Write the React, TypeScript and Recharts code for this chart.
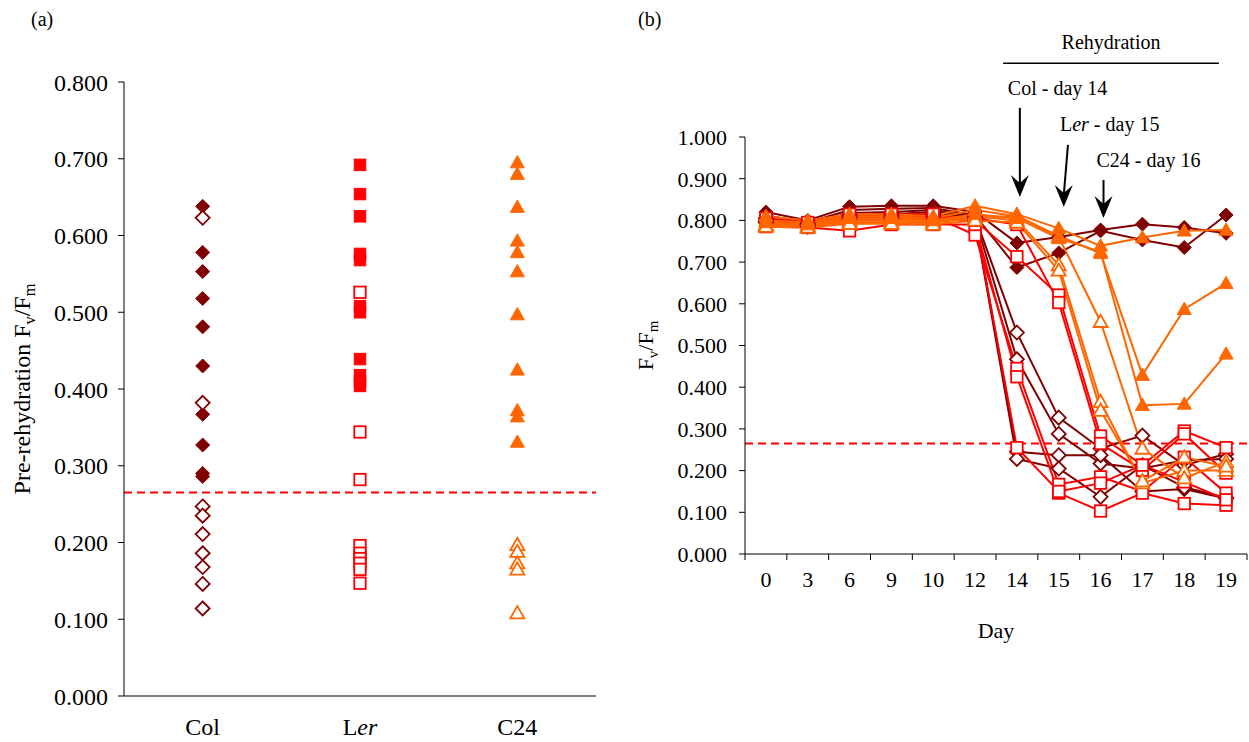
import React from 'react'
import { ScatterChart, Scatter, LineChart, Line, XAxis, YAxis, ReferenceLine } from 'recharts'

const FONT = '"Liberation Serif", "Times New Roman", serif'

// ---- panel (a): pre-rehydration Fv/Fm per genotype
const genotypes = ['Col', 'Ler', 'C24']
const colFilled = [0.638, 0.578, 0.553, 0.518, 0.481, 0.43, 0.367, 0.327, 0.29, 0.286]
const colOpen = [0.623, 0.382, 0.247, 0.235, 0.211, 0.186, 0.168, 0.146, 0.114]
const lerFilled = [0.692, 0.654, 0.625, 0.576, 0.568, 0.508, 0.5, 0.439, 0.418, 0.41, 0.404]
const lerOpen = [0.526, 0.344, 0.282, 0.196, 0.186, 0.179, 0.173, 0.165, 0.147]
const c24Filled = [0.695, 0.68, 0.637, 0.593, 0.578, 0.553, 0.497, 0.425, 0.372, 0.364, 0.331]
const c24Open = [0.197, 0.188, 0.173, 0.165, 0.108]
const yTicksA = [0, 0.1, 0.2, 0.3, 0.4, 0.5, 0.6, 0.7, 0.8]

// ---- panel (b): Fv/Fm over days
const days = ['0', '3', '6', '9', '10', '12', '14', '15', '16', '17', '18', '19']
const colA = [0.82, 0.8, 0.833, 0.835, 0.835, 0.82, 0.746, 0.76, 0.777, 0.791, 0.783, 0.769]
const colB = [0.812, 0.795, 0.825, 0.828, 0.83, 0.812, 0.687, 0.722, 0.775, 0.753, 0.735, 0.813]
const colC = [0.805, 0.792, 0.818, 0.82, 0.825, 0.808, 0.531, 0.327, 0.253, 0.284, 0.213, 0.24]
const colD = [0.8, 0.79, 0.812, 0.815, 0.82, 0.805, 0.467, 0.288, 0.217, 0.205, 0.225, 0.228]
const colE = [0.798, 0.788, 0.808, 0.81, 0.815, 0.8, 0.245, 0.237, 0.237, 0.15, 0.156, 0.133]
const colF = [0.795, 0.785, 0.805, 0.805, 0.81, 0.798, 0.228, 0.205, 0.137, 0.213, 0.16, 0.135]
const lerA = [0.79, 0.785, 0.8, 0.8, 0.805, 0.8, 0.713, 0.621, 0.283, 0.213, 0.295, 0.255]
const lerB = [0.795, 0.79, 0.805, 0.805, 0.81, 0.805, 0.79, 0.603, 0.265, 0.201, 0.288, 0.194]
const lerC = [0.8, 0.79, 0.81, 0.81, 0.81, 0.765, 0.445, 0.167, 0.185, 0.15, 0.232, 0.146]
const lerD = [0.785, 0.783, 0.775, 0.79, 0.79, 0.79, 0.425, 0.146, 0.103, 0.146, 0.121, 0.117]
const lerE = [0.805, 0.795, 0.815, 0.815, 0.815, 0.8, 0.255, 0.15, 0.17, 0.213, 0.173, 0.13]
const c24A = [0.81, 0.8, 0.815, 0.815, 0.81, 0.835, 0.815, 0.781, 0.739, 0.759, 0.775, 0.777]
const c24B = [0.8, 0.795, 0.81, 0.81, 0.805, 0.825, 0.81, 0.763, 0.721, 0.429, 0.587, 0.649]
const c24C = [0.795, 0.79, 0.805, 0.805, 0.8, 0.815, 0.805, 0.757, 0.725, 0.357, 0.36, 0.48]
const c24D = [0.79, 0.788, 0.8, 0.8, 0.798, 0.81, 0.8, 0.693, 0.365, 0.17, 0.2, 0.2]
const c24E = [0.788, 0.785, 0.795, 0.795, 0.795, 0.805, 0.812, 0.76, 0.557, 0.253, 0.182, 0.221]
const c24F = [0.785, 0.783, 0.792, 0.792, 0.79, 0.8, 0.795, 0.68, 0.344, 0.175, 0.232, 0.21]
const yTicksB = [0, 0.1, 0.2, 0.3, 0.4, 0.5, 0.6, 0.7, 0.8, 0.9, 1]
const threshold = 0.265

type Kind = 'diamond' | 'square' | 'triangle'

const COLOR: Record<string, string> = { Col: '#800000', Ler: '#ff0000', C24: '#ff6600' }
const KIND: Record<string, Kind> = { Col: 'diamond', Ler: 'square', C24: 'triangle' }

const seriesB = [
  { key: 'colA', g: 'Col', filled: true, v: colA },
  { key: 'colB', g: 'Col', filled: true, v: colB },
  { key: 'colC', g: 'Col', filled: false, v: colC },
  { key: 'colD', g: 'Col', filled: false, v: colD },
  { key: 'colE', g: 'Col', filled: false, v: colE },
  { key: 'colF', g: 'Col', filled: false, v: colF },
  { key: 'lerA', g: 'Ler', filled: false, v: lerA },
  { key: 'lerB', g: 'Ler', filled: false, v: lerB },
  { key: 'lerC', g: 'Ler', filled: false, v: lerC },
  { key: 'lerD', g: 'Ler', filled: false, v: lerD },
  { key: 'lerE', g: 'Ler', filled: false, v: lerE },
  { key: 'c24D', g: 'C24', filled: false, v: c24D },
  { key: 'c24E', g: 'C24', filled: false, v: c24E },
  { key: 'c24F', g: 'C24', filled: false, v: c24F },
  { key: 'c24A', g: 'C24', filled: true, v: c24A },
  { key: 'c24B', g: 'C24', filled: true, v: c24B },
  { key: 'c24C', g: 'C24', filled: true, v: c24C },
]

const rowsB = days.map((d, i) => {
  const row: Record<string, number | string> = { i, day: d }
  seriesB.forEach((s) => { row[s.key] = s.v[i] })
  return row
})

const scatterA = [
  { g: 'Col', filled: true, v: colFilled },
  { g: 'Col', filled: false, v: colOpen },
  { g: 'Ler', filled: true, v: lerFilled },
  { g: 'Ler', filled: false, v: lerOpen },
  { g: 'C24', filled: true, v: c24Filled },
  { g: 'C24', filled: false, v: c24Open },
].map((s) => ({ ...s, data: s.v.map((y) => ({ x: genotypes.indexOf(s.g) + 1, y })) }))

// chart frames (plot area) of the two panels
const A = { w: 610, h: 742, top: 82, bottom: 6, left: 24, right: 14, xh: 40, yw: 100 }
const B = { w: 619, h: 742, top: 137, bottom: 88, left: 15, right: 2, xh: 100, yw: 100 }
const midA = A.top + (A.h - A.top - A.bottom - A.xh) / 2
const midB = B.top + (B.h - B.top - B.bottom - B.xh) / 2
const HALF_B = (B.w - B.left - B.right - B.yw) / days.length / 2

function Marker({ cx, cy, kind, color, filled, r }: any) {
  if (cx == null || cy == null) return <g />
  const fill = filled ? color : '#fff'
  const sw = filled ? 1 : 1.8
  if (kind === 'diamond') {
    return <polygon points={`${cx},${cy - r} ${cx + r},${cy} ${cx},${cy + r} ${cx - r},${cy}`} fill={fill} stroke={color} strokeWidth={sw} />
  }
  if (kind === 'square') {
    const h = r * 0.82
    return <rect x={cx - h} y={cy - h} width={h * 2} height={h * 2} fill={fill} stroke={color} strokeWidth={sw} />
  }
  return <polygon points={`${cx},${cy - r} ${cx + r},${cy + r * 0.75} ${cx - r},${cy + r * 0.75}`} fill={fill} stroke={color} strokeWidth={sw} />
}

function GenoName({ name }: { name: string }) {
  if (name === 'Ler') return <>L<tspan fontStyle="italic">er</tspan></>
  return <>{name}</>
}

function YTitle({ tx, cy, prefix, size }: any) {
  const sub = size * 0.68
  return (
    <text x={tx} y={cy} transform={`rotate(-90 ${tx} ${cy})`} textAnchor="middle" fontSize={size} fill="#000">
      {prefix}F<tspan dy={5} fontSize={sub}>v</tspan><tspan dy={-5} fontSize={size}>/F</tspan><tspan dy={5} fontSize={sub}>m</tspan>
    </text>
  )
}

const CatTick = ({ x, y, payload }: any) => (
  <text x={x} y={y + 31} textAnchor="middle" fontSize={24} fill="#000">
    <GenoName name={genotypes[payload.value - 1]} />
  </text>
)

const DayTick = ({ x, y, payload }: any) => {
  const idx = payload.value + 0.5
  if (idx < 0 || idx >= days.length) return <g />
  return (
    <text x={x + HALF_B} y={y + 25} textAnchor="middle" fontSize={22} fill="#000">{days[idx]}</text>
  )
}

const arrowShape = (label: React.ReactNode, dx: number, dy: number) => (p: any) => {
  const { x1, y1, x2, y2 } = p
  return (
    <g>
      <text x={x1 + dx} y={y1 + dy} fontSize={20} fill="#000">{label}</text>
      <line x1={x1} y1={y1} x2={x2} y2={y2 - 12} stroke="#000" strokeWidth={2} />
      <polygon points={`${x2},${y2} ${x2 - 9},${y2 - 22} ${x2},${y2 - 14} ${x2 + 9},${y2 - 22}`} fill="#000" />
    </g>
  )
}

const rehydrationShape = (p: any) => {
  const { x1, y1, x2, y2 } = p
  return (
    <g>
      <text x={(x1 + x2) / 2} y={y1 - 14} textAnchor="middle" fontSize={20} fill="#000">Rehydration</text>
      <line x1={x1} y1={y1} x2={x2} y2={y2} stroke="#000" strokeWidth={1.5} />
    </g>
  )
}

const edgeTicks = Array.from({ length: days.length + 1 }, (_, k) => k - 0.5)

export default function App() {
  return (
    <div style={{ position: 'absolute', left: 0, top: 0, width: 1249, height: 742, background: '#fff', fontFamily: FONT }}>
      <div style={{ position: 'absolute', left: 31, top: 8, fontSize: 20 }}>(a)</div>
      <div style={{ position: 'absolute', left: 638, top: 8, fontSize: 20 }}>(b)</div>

      <div style={{ position: 'absolute', left: 0, top: 0 }}>
        <ScatterChart width={A.w} height={A.h} margin={{ top: A.top, right: A.right, bottom: A.bottom, left: A.left }}>
          <XAxis
            type="number" dataKey="x" domain={[0.5, 3.5]} ticks={[1, 2, 3]} interval={0}
            tick={<CatTick />} tickLine={false} axisLine={{ stroke: '#000' }} height={A.xh}
          />
          <YAxis
            type="number" dataKey="y" domain={[0, 0.8]} ticks={yTicksA} interval={0} width={A.yw}
            tickFormatter={(v: number) => v.toFixed(3)} tick={{ fill: '#000', fontSize: 24 }}
            tickLine={{ stroke: '#000' }} axisLine={{ stroke: '#000' }} tickSize={6} tickMargin={10}
          />
          <ReferenceLine y={threshold} stroke="#ff0000" strokeDasharray="8 5" strokeWidth={2} />
          {scatterA.map((s, k) => (
            <Scatter
              key={k} data={s.data} isAnimationActive={false}
              shape={(p: any) => <Marker cx={p.cx} cy={p.cy} kind={KIND[s.g]} color={COLOR[s.g]} filled={s.filled} r={7} />}
            />
          ))}
        </ScatterChart>
        <svg width={40} height={A.h} style={{ position: 'absolute', left: 0, top: 0 }}>
          <YTitle tx={30} cy={midA} prefix="Pre-rehydration " size={24} />
        </svg>
      </div>

      <div style={{ position: 'absolute', left: 630, top: 0 }}>
        <LineChart width={B.w} height={B.h} data={rowsB} margin={{ top: B.top, right: B.right, bottom: B.bottom, left: B.left }}>
          <XAxis
            type="number" dataKey="i" domain={[-0.5, days.length - 0.5]} ticks={edgeTicks} interval={0}
            tick={<DayTick />} tickLine={{ stroke: '#000' }} axisLine={{ stroke: '#000' }} tickSize={6} height={B.xh}
          />
          <YAxis
            type="number" domain={[0, 1]} ticks={yTicksB} interval={0} width={B.yw}
            tickFormatter={(v: number) => v.toFixed(3)} tick={{ fill: '#000', fontSize: 22 }}
            tickLine={{ stroke: '#000' }} axisLine={{ stroke: '#000' }} tickSize={6} tickMargin={12}
          />
          <ReferenceLine y={threshold} stroke="#ff0000" strokeDasharray="8 5" strokeWidth={2} />
          {seriesB.map((s) => (
            <Line
              key={s.key} dataKey={s.key} type="linear" stroke={COLOR[s.g]} strokeWidth={2}
              isAnimationActive={false} activeDot={false}
              dot={(p: any) => (
                <Marker key={`${s.key}-${p.index}`} cx={p.cx} cy={p.cy} kind={KIND[s.g]} color={COLOR[s.g]} filled={s.filled} r={7} />
              )}
            />
          ))}
          <ReferenceLine
            segment={[{ x: 5.67, y: 1.177 }, { x: 10.83, y: 1.177 }]}
            ifOverflow="visible" shape={rehydrationShape}
          />
          <ReferenceLine
            segment={[{ x: 6.07, y: 1.07 }, { x: 6.07, y: 0.856 }]}
            ifOverflow="visible" shape={arrowShape('Col - day 14', -12, -13)}
          />
          <ReferenceLine
            segment={[{ x: 7.22, y: 0.981 }, { x: 7.12, y: 0.832 }]}
            ifOverflow="visible" shape={arrowShape(<>L<tspan fontStyle="italic">er</tspan> - day 15</>, -8, -14)}
          />
          <ReferenceLine
            segment={[{ x: 8.07, y: 0.897 }, { x: 8.07, y: 0.806 }]}
            ifOverflow="visible" shape={arrowShape('C24 - day 16', -7, -13)}
          />
        </LineChart>
        <svg width={40} height={B.h} style={{ position: 'absolute', left: 0, top: 0 }}>
          <YTitle tx={23} cy={midB} prefix="" size={22} />
        </svg>
        <svg width={B.w} height={40} style={{ position: 'absolute', left: 0, top: 610 }}>
          <text x={B.left + B.yw + (B.w - B.left - B.right - B.yw) / 2} y={28} textAnchor="middle" fontSize={22} fill="#000">Day</text>
        </svg>
      </div>
    </div>
  )
}
